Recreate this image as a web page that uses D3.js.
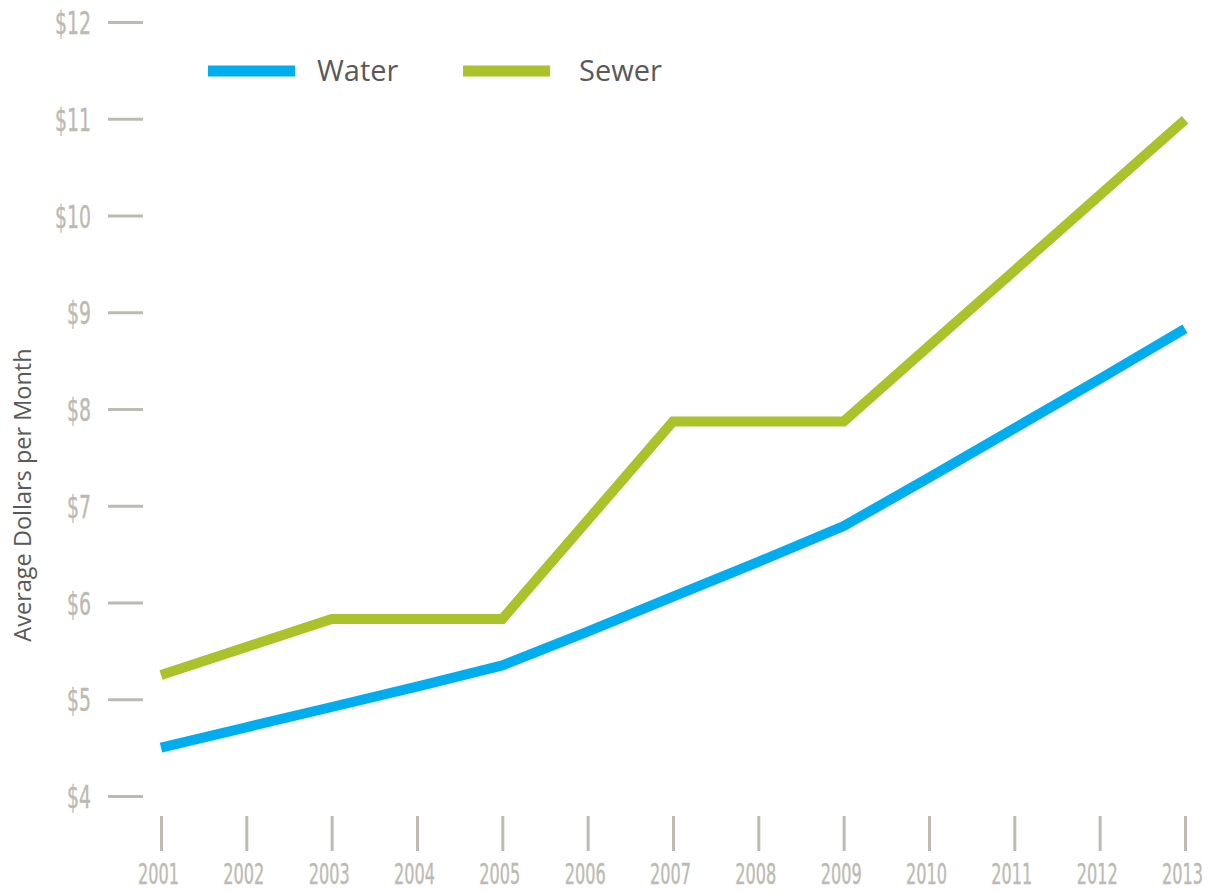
<!DOCTYPE html>
<html>
<head>
<meta charset="utf-8">
<script src="https://cdn.jsdelivr.net/npm/d3@7"></script>
<style>
  body { margin: 0; background: #fff; }
  svg { display: block; }
</style>
</head>
<body>
<svg id="chart" width="1212" height="892"></svg>
<script>
const years = [2001, 2002, 2003, 2004, 2005, 2006, 2007, 2008, 2009, 2010, 2011, 2012, 2013];
const water = [4.50, 4.71, 4.92, 5.13, 5.35, 5.70, 6.06, 6.42, 6.79, 7.29, 7.80, 8.31, 8.83];
const sewer = [5.25, 5.54, 5.83, 5.83, 5.83, 6.85, 7.87, 7.87, 7.87, 8.65, 9.43, 10.21, 10.99];
const yTicks = [4, 5, 6, 7, 8, 9, 10, 11, 12];
const seriesNames = ["Water", "Sewer"];
const seriesColors = ["#00aeef", "#abc22b"];
const yTitle = "Average Dollars per Month";

const svg = d3.select("#chart");
const x = d3.scaleLinear().domain([2001, 2013]).range([161, 1185]);
const y = d3.scaleLinear().domain([4, 12]).range([796, 22]);
const grey = "#bcbab3";
const condensed = "'Liberation Sans Narrow', 'DejaVu Sans Condensed', 'Liberation Sans', sans-serif";

// Y axis: short horizontal ticks with labels
const yAxis = d3.axisLeft(y).tickValues(yTicks).tickSize(0).tickFormat(d => "$" + d);
const yg = svg.append("g").attr("transform", "translate(143,0)").call(yAxis);
yg.select(".domain").remove();
yg.selectAll(".tick").append("line")
  .attr("x1", 0).attr("x2", -35).attr("y1", 0).attr("y2", 0)
  .attr("stroke", grey).attr("stroke-width", 3);
yg.selectAll(".tick text")
  .attr("x", -52).attr("dy", "0.36em")
  .attr("fill", grey)
  .attr("stroke", grey).attr("stroke-width", 0.4)
  .style("font-family", condensed)
  .style("font-size", "32px")
  .attr("lengthAdjust", "spacingAndGlyphs")
  .attr("textLength", d => d >= 10 ? 36 : 24);

// X axis: vertical ticks below the plot
const xAxis = d3.axisBottom(x).tickValues(years).tickSize(0).tickFormat(d3.format("d"));
const xg = svg.append("g").attr("transform", "translate(0,816)").call(xAxis);
xg.select(".domain").remove();
xg.selectAll(".tick").append("line")
  .attr("x1", 0).attr("x2", 0).attr("y1", 0).attr("y2", 35)
  .attr("stroke", grey).attr("stroke-width", 3);
xg.selectAll(".tick text")
  .attr("x", 0).attr("y", 0).attr("dy", "0.36em")
  .attr("fill", grey)
  .attr("stroke", grey).attr("stroke-width", 0.4)
  .style("font-family", condensed)
  .style("font-size", "28px")
  .each(function() {
    const len = this.getComputedTextLength() || 41;
    const s = 41 / len;
    d3.select(this).attr("transform", `translate(-3,58) scale(${s},1)`);
  });

// Y title
svg.append("text")
  .attr("transform", "translate(31,495) rotate(-90)")
  .attr("text-anchor", "middle")
  .attr("fill", "#595959")
  .style("font-family", "'Open Sans', 'Noto Sans', sans-serif")
  .style("font-size", "23.5px")
  .text(yTitle);

// Lines
const line = d3.line().x((d, i) => x(years[i])).y(d => y(d));
[water, sewer].forEach((vals, k) => {
  svg.append("path")
    .datum(vals)
    .attr("d", line)
    .attr("fill", "none")
    .attr("stroke", seriesColors[k])
    .attr("stroke-width", 10)
    .attr("stroke-linejoin", "miter");
});

// Legend
const legendX = [208, 463];
const legendTextX = [317, 579];
seriesNames.forEach((name, k) => {
  svg.append("line")
    .attr("x1", legendX[k]).attr("x2", legendX[k] + 87)
    .attr("y1", 71).attr("y2", 71)
    .attr("stroke", seriesColors[k]).attr("stroke-width", 11);
  svg.append("text")
    .attr("x", legendTextX[k]).attr("y", 71).attr("dy", "0.36em")
    .attr("fill", "#595959")
    .style("font-family", "'Open Sans', 'Noto Sans', sans-serif")
    .style("font-size", "29px")
    .text(name);
});
</script>
</body>
</html>
